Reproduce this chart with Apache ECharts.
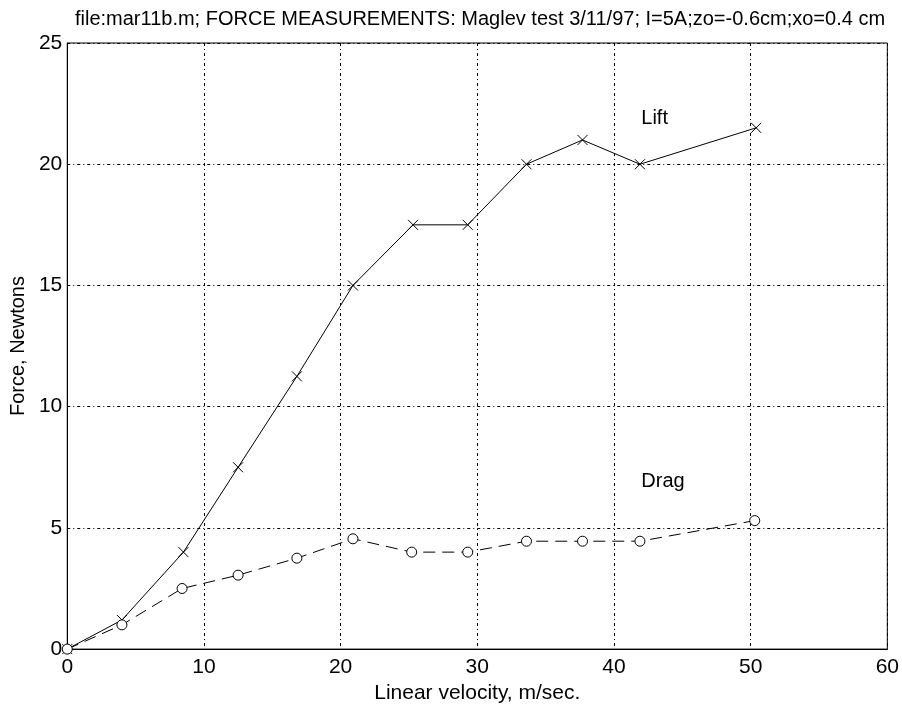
<!DOCTYPE html>
<html>
<head>
<meta charset="utf-8">
<script src="https://cdn.jsdelivr.net/npm/echarts@6/dist/echarts.min.js"></script>
<style>html,body{margin:0;padding:0;background:#fff}#c{width:902px;height:709px}</style>
</head>
<body>
<div id="c"></div>
<script>
var titleText = 'file:mar11b.m; FORCE MEASUREMENTS: Maglev test 3/11/97; I=5A;zo=-0.6cm;xo=0.4 cm';
var xName = 'Linear velocity, m/sec.';
var yName = 'Force, Newtons';
var liftVelocity = [0, 4.0, 8.5, 12.5, 16.8, 20.9, 25.3, 29.3, 33.6, 37.7, 41.9, 50.4];
var liftForce    = [0, 1.2, 4.0, 7.5, 11.25, 15.0, 17.5, 17.5, 20.0, 21.0, 20.0, 21.5];
var dragVelocity = [0, 4.0, 8.4, 12.5, 16.8, 20.9, 25.2, 29.3, 33.6, 37.7, 41.9, 50.3];
var dragForce    = [0, 1.0, 2.5, 3.05, 3.75, 4.55, 4.0, 4.0, 4.45, 4.45, 4.45, 5.3];
var xTicks = [0, 10, 20, 30, 40, 50, 60];
var yTicks = [0, 5, 10, 15, 20, 25];
var annotations = [
  {name: 'Lift', x: 42.0, y: 21.9},
  {name: 'Drag', x: 42.0, y: 6.9}
];

function pairs(xs, ys){ return xs.map(function(x,i){ return [x, ys[i]]; }); }

var FONT = 'Liberation Sans';
var gridLine = {show: true, lineStyle: {color: '#000', width: 1, type: [3,3,1,3]}};

var chart = echarts.init(document.getElementById('c'));
chart.setOption({
  animation: false,
  backgroundColor: '#fff',
  textStyle: {fontFamily: FONT, color: '#000'},
  title: {
    text: titleText, left: 475, top: 4, textAlign: 'center',
    textStyle: {fontFamily: FONT, fontSize: 20, fontWeight: 'normal', color: '#000'}
  },
  grid: {left: 67, right: 13, top: 43, bottom: 54, show: true, borderColor: '#000', borderWidth: 1, backgroundColor: 'transparent'},
  xAxis: {
    type: 'value', min: xTicks[0], max: xTicks[xTicks.length-1], interval: 10,
    name: xName, nameLocation: 'middle', nameGap: 27,
    nameTextStyle: {fontFamily: FONT, fontSize: 21, color: '#000'},
    axisLine: {show: true, lineStyle: {color: '#000', width: 1}},
    axisTick: {show: false},
    axisLabel: {fontFamily: FONT, fontSize: 21, color: '#000', margin: 8},
    splitLine: gridLine
  },
  yAxis: {
    type: 'value', min: yTicks[0], max: yTicks[yTicks.length-1], interval: 5,
    name: yName, nameLocation: 'middle', nameGap: 35,
    nameTextStyle: {fontFamily: FONT, fontSize: 20, color: '#000'},
    axisLine: {show: true, lineStyle: {color: '#000', width: 1}},
    axisTick: {show: false},
    axisLabel: {fontFamily: FONT, fontSize: 21, color: '#000', margin: 5},
    splitLine: gridLine
  },
  series: [
    {
      name: 'Lift', type: 'line', data: pairs(liftVelocity, liftForce),
      symbol: 'path://M0,0L10,10M10,0L0,10', symbolSize: 10, showSymbol: true,
      lineStyle: {color: '#000', width: 1, type: 'solid'},
      itemStyle: {color: 'none', borderColor: '#000', borderWidth: 1},
      markPoint: {
        symbol: 'circle', symbolSize: 0,
        data: [{coord: [annotations[0].x, annotations[0].y], value: annotations[0].name}],
        label: {show: true, position: 'right', distance: 0, formatter: '{c}', fontFamily: FONT, fontSize: 20, color: '#000'}
      }
    },
    {
      name: 'Drag', type: 'line', data: pairs(dragVelocity, dragForce),
      symbol: 'path://M10,5A5,5 0 1 1 0,5A5,5 0 1 1 10,5Z', symbolSize: 10, showSymbol: true,
      lineStyle: {color: '#000', width: 1, type: [12,7]},
      itemStyle: {color: '#fff', borderColor: '#000', borderWidth: 1},
      markPoint: {
        symbol: 'circle', symbolSize: 0,
        data: [{coord: [annotations[1].x, annotations[1].y], value: annotations[1].name}],
        label: {show: true, position: 'right', distance: 0, formatter: '{c}', fontFamily: FONT, fontSize: 20, color: '#000'}
      }
    }
  ]
});
</script>
</body>
</html>
